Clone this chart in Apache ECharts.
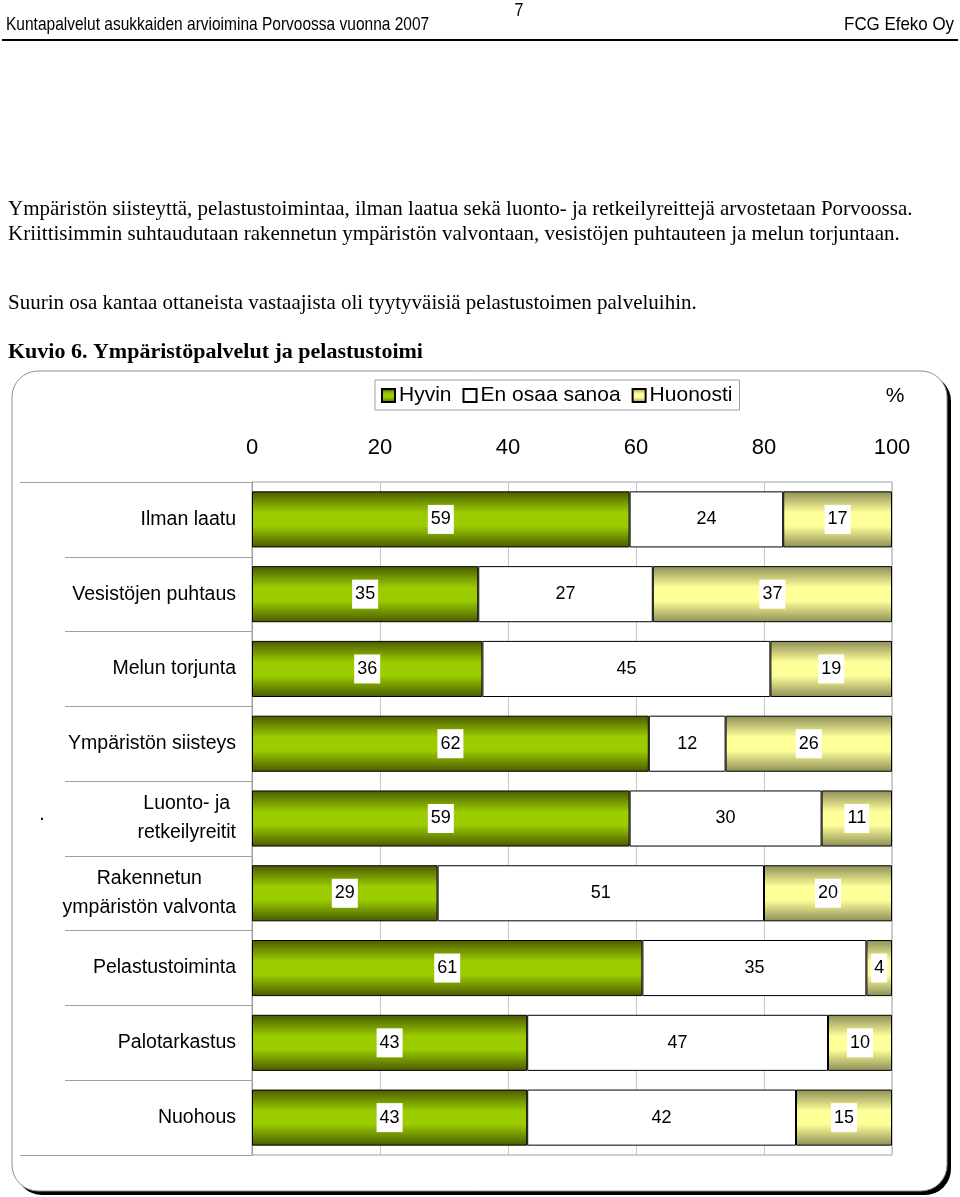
<!DOCTYPE html>
<html><head><meta charset="utf-8">
<script src="https://cdn.jsdelivr.net/npm/echarts@6/dist/echarts.min.js"></script>
<style>html,body{margin:0;padding:0;background:#fff}#c{width:960px;height:1197px}</style>
</head><body><div id="c"></div>
<script>
const categories = ['Ilman laatu','Vesistöjen puhtaus','Melun torjunta','Ympäristön siisteys','Luonto- ja\nretkeilyreitit','Rakennetun\nympäristön valvonta','Pelastustoiminta','Palotarkastus','Nuohous'];
const seriesNames = ['Hyvin','En osaa sanoa','Huonosti'];
const hyvin    = [59,35,36,62,59,29,61,43,43];
const enOsaa   = [24,27,45,12,30,51,35,47,42];
const huonosti = [17,37,19,26,11,20,4,10,15];
const xTicks = [0,20,40,60,80,100];

const sans = '"Liberation Sans",Arial,sans-serif';
const serif = '"Liberation Serif","Times New Roman",serif';

const rows = [hyvin, enOsaa, huonosti];
const sums = hyvin.map((v,i)=>hyvin[i]+enOsaa[i]+huonosti[i]);
const grad = (e,m)=>new echarts.graphic.LinearGradient(0,0,0,1,[{offset:0,color:e},{offset:0.38,color:m},{offset:0.62,color:m},{offset:1,color:e}]);
const fills = [grad('#4a5a00','#9acc00'), '#ffffff', grad('#8e8e58','#ffff99')];

const series = rows.map((arr,k)=>({
  name: seriesNames[k], type:'bar', stack:'s', barCategoryGap:'25%',
  yAxisIndex:0,
  itemStyle:{color:fills[k], borderColor:'#000', borderWidth:1},
  label:{show:true, position:'inside', formatter:(p)=>String(arr[p.dataIndex]),
    fontFamily:sans, fontSize:18, color:'#000', backgroundColor:'#fff', padding:[6,3,5,3]},
  data: arr.map((v,i)=>v/sums[i]*100)
}));

const chart = echarts.init(document.getElementById('c'), null, {renderer:'canvas'});
chart.setOption({
  animation:false,
  grid:{left:252, right:68, top:482, bottom:42, show:true, borderColor:'#a0a0a0', borderWidth:1, backgroundColor:'transparent'},
  legend:{left:375, top:380, data:seriesNames, itemWidth:13, itemHeight:13, itemGap:11,
    borderColor:'#a0a0a0', borderWidth:1, backgroundColor:'#fff', padding:[5,7,4,6], borderRadius:0,
    textStyle:{fontFamily:sans, fontSize:21, color:'#000', padding:[0,0,0,-1]},
    icon:'rect'},
  xAxis:{type:'value', position:'top', min:0, max:100, interval:20,
    axisLine:{show:false}, axisTick:{show:false},
    axisLabel:{fontFamily:sans, fontSize:22, color:'#000', margin:23, formatter:(v)=>xTicks.includes(v)?String(v):''},
    splitLine:{show:true, lineStyle:{color:'#c8c8c8', width:1}}},
  yAxis:[{type:'category', data:categories, inverse:true,
    axisLine:{show:true, lineStyle:{color:'#a0a0a0'}},
    axisTick:{show:true, length:187, lineStyle:{color:'#a0a0a0'}},
    axisLabel:{margin:16, formatter:(v)=>v.split('\n').map(s=>'{c|'+s+'}').join('\n'),
      rich:{c:{fontFamily:sans, fontSize:19.5, color:'#000', lineHeight:29, align:'center'}}}},
   {type:'category', data:[''], position:'left', axisLine:{show:false},
    axisTick:{show:true, length:232, lineStyle:{color:'#a0a0a0'}}, axisLabel:{show:false}}],
  series: series,
  graphic:[
    {type:'rect', z:-10, shape:{x:16,y:375,width:935,height:820,r:26}, style:{fill:'#000'}},
    {type:'rect', z:-9, shape:{x:12,y:371,width:935,height:820,r:26}, style:{fill:'#fff', stroke:'#909090', lineWidth:1}},
    {type:'text', x:6, y:25, scaleX:0.816, style:{text:'Kuntapalvelut asukkaiden arvioimina Porvoossa vuonna 2007', x:0, y:0, font:'19px '+sans, fill:'#000', textVerticalAlign:'middle'}},
    {type:'text', x:519, y:11, scaleX:0.85, style:{text:'7', x:0, y:0, font:'19px '+sans, fill:'#000', textAlign:'center', textVerticalAlign:'middle'}},
    {type:'text', x:954, y:25, scaleX:0.89, style:{text:'FCG Efeko Oy', x:0, y:0, font:'19px '+sans, fill:'#000', textAlign:'right', textVerticalAlign:'middle'}},
    {type:'rect', shape:{x:2,y:39,width:956,height:2}, style:{fill:'#000'}},
    {type:'text', style:{text:'Ympäristön siisteyttä, pelastustoimintaa, ilman laatua sekä luonto- ja retkeilyreittejä arvostetaan Porvoossa.', x:8, y:209, font:'21px '+serif, fill:'#000', textVerticalAlign:'middle'}},
    {type:'text', style:{text:'Kriittisimmin suhtaudutaan rakennetun ympäristön valvontaan, vesistöjen puhtauteen ja melun torjuntaan.', x:8, y:234, font:'21px '+serif, fill:'#000', textVerticalAlign:'middle'}},
    {type:'text', style:{text:'Suurin osa kantaa ottaneista vastaajista oli tyytyväisiä pelastustoimen palveluihin.', x:8, y:303, font:'21px '+serif, fill:'#000', textVerticalAlign:'middle'}},
    {type:'text', style:{text:'Kuvio 6. Ympäristöpalvelut ja pelastustoimi', x:8, y:352, font:'bold 22px '+serif, fill:'#000', textVerticalAlign:'middle'}},
    {type:'text', style:{text:'%', x:895, y:396, font:'21px '+sans, fill:'#000', textAlign:'center', textVerticalAlign:'middle'}},
    {type:'text', style:{text:'.', x:42, y:814, font:'20px '+sans, fill:'#000', textAlign:'center', textVerticalAlign:'middle'}}
  ]
});
</script></body></html>
